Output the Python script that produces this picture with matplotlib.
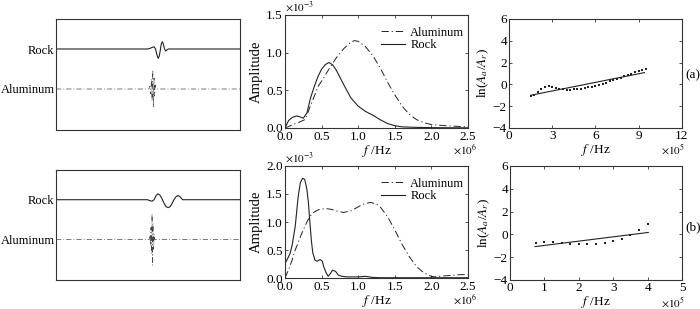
import numpy as np
import matplotlib
matplotlib.use("Agg")
import matplotlib.pyplot as plt

plt.rcParams['font.family'] = ['Liberation Serif', 'DejaVu Serif']
plt.rcParams['mathtext.fontset'] = 'stix'

# --- waveforms (time in arbitrary units 0..100, amplitude in trace units) ---
rock1_t = [0, 49.7, 51.1, 52.2, 53.3, 54.1, 54.6, 55.2, 55.6, 56.1, 56.7, 57.2, 57.8, 58.3, 59.0, 59.6, 60.3, 61.0, 100]
rock1_a = [0, 0, 0.06, 0.16, 0.22, 0, -0.4, -0.8, -0.93, -0.7, -0.1, 0.5, 0.73, 0.5, 0, -0.2, -0.1, 0, 0]
alu1_t = [0, 50.5, 51.1, 51.5, 51.9, 52.2, 52.6, 52.9, 53.3, 53.6, 53.9, 54.3, 100]
alu1_a = [0, 0, 0.3, -0.5, 1.0, -1.2, 1.9, -1.8, 1.1, -0.7, 0.4, 0, 0]

rock2_t = [0, 49.7, 51.1, 52.2, 53.3, 54.3, 55.4, 56.5, 57.6, 58.7, 59.8, 60.9, 62.0, 63.0, 64.1, 65.2, 66.3, 67.4, 68.8, 100]
rock2_a = [0, 0, -0.1, -0.15, 0, 0.4, 0.6, 0.45, 0.1, -0.35, -0.7, -0.8, -0.7, -0.4, 0, 0.3, 0.42, 0.3, 0, 0]
alu2_t = [0, 50.8, 51.1, 51.4, 51.6, 51.9, 52.2, 52.4, 52.7, 53.0, 53.3, 53.5, 100]
alu2_a = [0, 0, 0.4, -0.6, 1.2, -1.4, 2.6, -2.6, 1.6, -1.0, 0.5, 0, 0]

rock_offset = 4.0
alu_offset = 0.0

# --- amplitude spectra (f in 1e6 Hz, amplitude in 1e-3) ---
sp_rock1_f = [0, 0.05, 0.1, 0.16, 0.2, 0.25, 0.3, 0.35, 0.4, 0.45, 0.5, 0.55, 0.6, 0.65, 0.7, 0.8, 0.9, 1.0,
              1.1, 1.2, 1.3, 1.4, 1.5, 1.6, 1.8, 2.0, 2.2, 2.5]
sp_rock1_a = [0, 0.1, 0.14, 0.16, 0.15, 0.13, 0.2, 0.4, 0.55, 0.68, 0.78, 0.84, 0.87, 0.84, 0.77, 0.58, 0.4, 0.29,
              0.22, 0.17, 0.11, 0.06, 0.03, 0.015, 0.008, 0.005, 0.003, 0.002]
sp_alu1_f = [0, 0.1, 0.2, 0.27, 0.3, 0.35, 0.4, 0.45, 0.5, 0.6, 0.7, 0.8, 0.9, 0.95, 1.0, 1.1, 1.2, 1.3,
             1.4, 1.5, 1.6, 1.7, 1.8, 1.9, 2.0, 2.2, 2.4, 2.5]
sp_alu1_a = [0, 0.04, 0.08, 0.11, 0.17, 0.3, 0.42, 0.55, 0.62, 0.78, 0.93, 1.05, 1.14, 1.16, 1.15, 1.08, 0.96, 0.8,
             0.61, 0.44, 0.29, 0.18, 0.11, 0.07, 0.045, 0.03, 0.02, 0.015]

sp_rock2_f = [0, 0.03, 0.07, 0.1, 0.14, 0.18, 0.21, 0.24, 0.27, 0.3, 0.32, 0.34, 0.36, 0.38, 0.41, 0.44, 0.48,
              0.51, 0.53, 0.56, 0.59, 0.62, 0.65, 0.69, 0.73, 0.78, 0.84, 0.9, 1.0, 1.1, 1.2, 1.3, 1.5, 2.0, 2.5]
sp_rock2_a = [0.26, 0.33, 0.44, 0.6, 0.92, 1.45, 1.7, 1.78, 1.76, 1.58, 1.35, 1.0, 0.68, 0.45, 0.32, 0.3, 0.33,
              0.3, 0.2, 0.1, 0.03, 0.08, 0.14, 0.12, 0.05, 0.03, 0.02, 0.02, 0.02, 0.03, 0.01, 0.005, 0.005, 0.005, 0.005]
sp_alu2_f = [0, 0.05, 0.1, 0.14, 0.2, 0.25, 0.3, 0.34, 0.4, 0.46, 0.55, 0.62, 0.7, 0.8, 0.9, 1.0, 1.07, 1.17,
             1.25, 1.3, 1.4, 1.5, 1.6, 1.7, 1.8, 1.9, 2.0, 2.05, 2.1, 2.2, 2.3, 2.4, 2.5]
sp_alu2_a = [0, 0.15, 0.33, 0.5, 0.7, 0.86, 1.0, 1.1, 1.18, 1.22, 1.24, 1.23, 1.2, 1.17, 1.2, 1.27, 1.32, 1.35,
             1.32, 1.27, 1.1, 0.86, 0.6, 0.38, 0.2, 0.09, 0.03, 0.02, 0.03, 0.04, 0.05, 0.06, 0.06]

# --- ln(Aa/Ar) vs f (f in 1e5 Hz) ---
ln1_f = [1.5, 1.75, 2.0, 2.25, 2.5, 2.75, 3.0, 3.25, 3.5, 3.75, 4.0, 4.25, 4.5, 4.75, 5.0, 5.25, 5.5,
         5.75, 6.0, 6.25, 6.5, 6.75, 7.0, 7.25, 7.5, 7.75, 8.0, 8.25, 8.5, 8.75, 9.0, 9.25, 9.5]
ln1_y = [-1.05, -0.95, -0.72, -0.45, -0.28, -0.18, -0.22, -0.33, -0.42, -0.46, -0.47, -0.47, -0.46, -0.43,
         -0.39, -0.34, -0.28, -0.21, -0.13, -0.04, 0.06, 0.16, 0.27, 0.38, 0.5, 0.62, 0.74, 0.86, 0.98, 1.1,
         1.22, 1.33, 1.45]
fit1_f = [1.5, 9.4]
fit1_y = [-1.0, 1.08]

ln2_f = [0.75, 1.0, 1.25, 1.5, 1.75, 2.0, 2.25, 2.5, 2.75, 3.0, 3.25, 3.5, 3.75, 4.0]
ln2_y = [-0.73, -0.64, -0.67, -0.73, -0.82, -0.88, -0.88, -0.82, -0.73, -0.55, -0.38, -0.03, 0.38, 0.9]
fit2_f = [0.73, 4.02]
fit2_y = [-1.07, 0.17]

fig = plt.figure(figsize=(7.0, 3.09), dpi=100)

line_col = '#222222'
dashdot = (0, (7.5, 3, 1.2, 3))
tick_fs = 9.5
lab_fs = 9.5


def style_axes(ax):
    for s in ax.spines.values():
        s.set_linewidth(0.8)
        s.set_color('#333333')
    ax.tick_params(direction='in', top=True, right=True, length=2.5, width=0.6,
                   labelsize=tick_fs, pad=1.5, color='#333333')


# waveform panels
wave_pos = [[0.080, 0.5793, 0.2629, 0.3592], [0.080, 0.0939, 0.2629, 0.356]]
waves = [(rock1_t, rock1_a, alu1_t, alu1_a), (rock2_t, rock2_a, alu2_t, alu2_a)]
for pos, (rt, ra, at, aa) in zip(wave_pos, waves):
    ax = fig.add_axes(pos)
    ax.plot(rt, np.array(ra) + rock_offset, color=line_col, lw=0.8)
    ax.plot(at, np.array(aa) + alu_offset, color='#444444', lw=0.5, linestyle=dashdot)
    ax.set_xlim(0, 100)
    ax.set_ylim(-4.1, 7.0)
    ax.set_xticks([])
    ax.set_yticks([alu_offset, rock_offset])
    ax.set_yticklabels(['Aluminum', 'Rock'], fontsize=9)
    ax.tick_params(length=0, pad=1)
    for s in ax.spines.values():
        s.set_linewidth(0.8)
        s.set_color('#333333')

# spectrum panels
spec_pos = [[0.4071, 0.5858, 0.2614, 0.3657], [0.4071, 0.1003, 0.2614, 0.3625]]
specs = [(sp_alu1_f, sp_alu1_a, sp_rock1_f, sp_rock1_a, 1.5),
         (sp_alu2_f, sp_alu2_a, sp_rock2_f, sp_rock2_a, 2.0)]
for pos, (af, aa, rf, ra, ymax) in zip(spec_pos, specs):
    ax = fig.add_axes(pos)
    ax.plot(af, aa, color=line_col, lw=0.7, linestyle=dashdot, label='Aluminum')
    ax.plot(rf, ra, color=line_col, lw=0.8, label='Rock')
    ax.set_xlim(0, 2.5)
    ax.set_ylim(0, ymax)
    ax.set_xticks(np.arange(0, 2.51, 0.5))
    ax.set_yticks(np.arange(0, ymax + 0.01, 0.5))
    ax.xaxis.set_major_formatter(matplotlib.ticker.FormatStrFormatter('%.1f'))
    ax.yaxis.set_major_formatter(matplotlib.ticker.FormatStrFormatter('%.1f'))
    style_axes(ax)
    ax.tick_params(axis='x', pad=2.5)
    ax.set_ylabel('Amplitude', fontsize=10.5, labelpad=2)
    ax.set_xlabel('$f$ /Hz', fontsize=lab_fs, labelpad=0)
    ax.text(0.0, 1.01, r'$\times10^{-3}$', transform=ax.transAxes, fontsize=8, ha='left', va='bottom')
    ax.text(0.985, -0.195, r'$\times10^{6}$', transform=ax.transAxes, fontsize=8, ha='center', va='center')
    ax.legend(loc='upper right', bbox_to_anchor=(1.0, 0.93), frameon=False, fontsize=9,
              handlelength=1.9, handletextpad=0.4, labelspacing=0.05, borderpad=0.2, borderaxespad=0.1)

# ln ratio panels
ln_pos = [[0.7271, 0.5858, 0.2471, 0.3528], [0.7286, 0.0939, 0.2457, 0.3689]]
lns = [(ln1_f, ln1_y, fit1_f, fit1_y, 12, [0, 3, 6, 9, 12], '(a)', 0.486),
       (ln2_f, ln2_y, fit2_f, fit2_y, 5, [0, 1, 2, 3, 4, 5], '(b)', 0.465)]
for pos, (lf, ly, ff, fy, xmax, xt, tag, tag_y) in zip(ln_pos, lns):
    ax = fig.add_axes(pos)
    ax.plot(lf, ly, linestyle='none', marker='s', markersize=1.6, markeredgewidth=0, color=line_col)
    ax.plot(ff, fy, color=line_col, lw=0.8)
    ax.set_xlim(0, xmax)
    ax.set_ylim(-4, 6)
    ax.set_xticks(xt)
    ax.set_yticks([-4, -2, 0, 2, 4, 6])
    style_axes(ax)
    ax.set_ylabel('ln($A_a$/$A_r$)', fontsize=lab_fs, labelpad=1)
    ax.set_xlabel('$f$ /Hz', fontsize=lab_fs, labelpad=0)
    ax.text(0.945, -0.2, r'$\times10^{5}$', transform=ax.transAxes, fontsize=8, ha='center', va='center')
    ax.text(1.065, tag_y, tag, transform=ax.transAxes, fontsize=lab_fs, ha='center', va='center')

fig.savefig('out.png', dpi=100)
